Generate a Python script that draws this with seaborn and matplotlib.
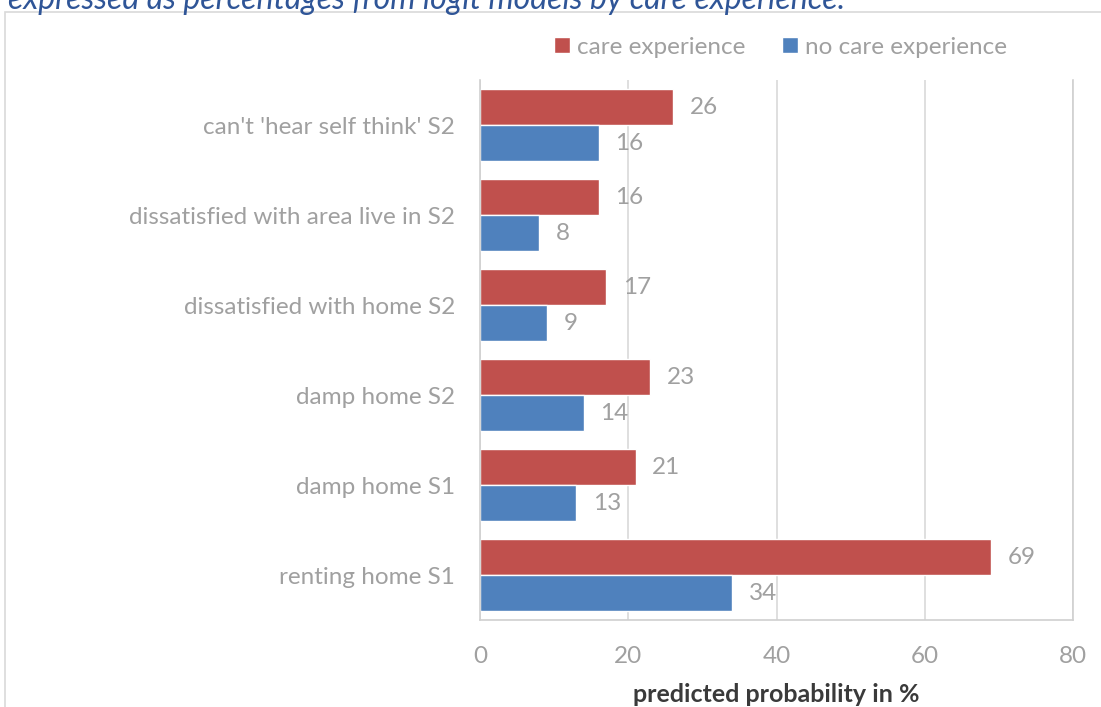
import matplotlib
matplotlib.use("Agg")
import matplotlib.pyplot as plt
import seaborn as sns
import pandas as pd
from matplotlib.patches import Rectangle

categories = ["can't 'hear self think' S2", "dissatisfied with area live in S2",
              "dissatisfied with home S2", "damp home S2", "damp home S1", "renting home S1"]
care = [26, 16, 17, 23, 21, 69]
no_care = [16, 8, 9, 14, 13, 34]
series = ["care experience", "no care experience"]
colors = ["#C0504D", "#4F81BD"]
xticks = [0, 20, 40, 60, 80]

sns.set_theme(style="white")
plt.rcParams['font.family'] = ['Lato', 'DejaVu Sans']

df = pd.DataFrame({
    "category": categories * 2,
    "value": care + no_care,
    "series": [series[0]] * len(categories) + [series[1]] * len(categories),
})

fig = plt.figure(figsize=(11.01, 7.07), dpi=100)
ax = fig.add_axes([480 / 1101, 1 - 620 / 707, (1073 - 480) / 1101, 540 / 707])

sns.barplot(data=df, y="category", x="value", hue="series", order=categories,
            hue_order=series, palette=colors, orient="h", width=0.8,
            saturation=1, ax=ax, legend=True)

gray = "#A0A0A0"
ax.set_xlim(0, 80)
ax.set_xticks(xticks)
ax.grid(axis="x", color="#D9D9D9", linewidth=1.2)
ax.set_axisbelow(True)
ax.spines["top"].set_visible(False)
for s in ["left", "bottom", "right"]:
    ax.spines[s].set_color("#D0D0D0")
    ax.spines[s].set_linewidth(1.2)
ax.tick_params(axis="x", colors=gray, labelsize=17.5, length=0, pad=19)
ax.tick_params(axis="y", colors=gray, labelsize=17.5, length=0, pad=18)
for lab in ax.get_xticklabels() + ax.get_yticklabels():
    lab.set_color(gray)
ax.set_ylabel("")
ax.set_xlabel("predicted probability in %", fontsize=18, fontweight="bold",
              color="#3A3A3A", labelpad=11)

for cont in ax.containers:
    ax.bar_label(cont, padding=12, color=gray, fontsize=17.5)

leg = ax.legend(loc="center left", bbox_to_anchor=(532 / 1101, 1 - 47 / 707),
                bbox_transform=fig.transFigure, ncol=2, frameon=False,
                fontsize=17.5, handlelength=0.65, handleheight=0.65,
                columnspacing=1.5, handletextpad=0.3)
for t in leg.get_texts():
    t.set_color(gray)

fig.add_artist(Rectangle((5 / 1101, -0.1), 1.2, 1 - 12 / 707 + 0.1,
                         transform=fig.transFigure, fill=False,
                         edgecolor="#D9D9D9", linewidth=1.2))
fig.text(8 / 1101, 1 - 9 / 707,
         "expressed as percentages from logit models by care experience.",
         fontsize=23, style="italic", color="#2F5597", va="baseline", ha="left")

fig.savefig("out.png", dpi=100)
